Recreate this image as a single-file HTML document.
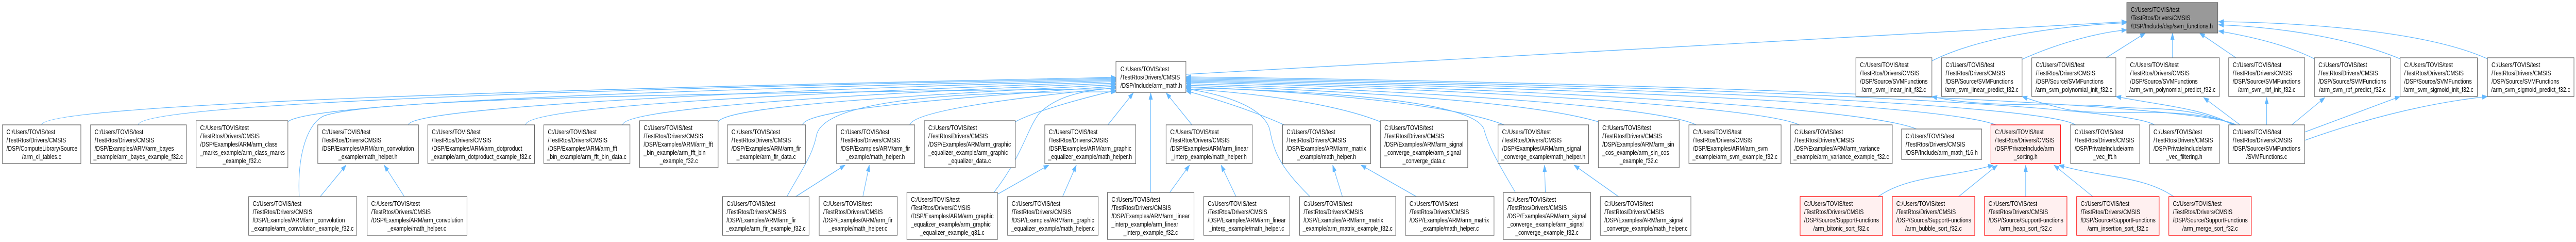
<!DOCTYPE html>
<html><head><meta charset="utf-8"><meta name="viewport" content="width=6371">
<style>
html,body{margin:0;padding:0;background:#fff;width:100%;height:100%;overflow:hidden;}
svg{display:block;width:100vw;height:100vh;}
text{font-family:"Liberation Sans",Arial,sans-serif;font-size:13.33px;fill:#000;}
.n rect{fill:#fff;stroke:#666;stroke-width:1.3;}
.r rect{fill:#fff0f0;stroke:#f00;stroke-width:1.3;}
.g rect{fill:#999;stroke:#666;stroke-width:1.3;}
.e path{fill:none;stroke:#63b8ff;stroke-width:1.3;}
</style></head><body>
<svg viewBox="0 0 6371 469" preserveAspectRatio="none" xmlns="http://www.w3.org/2000/svg">
<defs><marker id="a" markerWidth="14" markerHeight="10" refX="13" refY="5" orient="auto" markerUnits="userSpaceOnUse"><path d="M0,0 L14,5 L0,10z" fill="#63b8ff" stroke="none"/></marker></defs>
<g class="e">
<path marker-end="url(#a)" d="M103,242 C103,200 1500,170 2760,150"/>
<path marker-end="url(#a)" d="M342,242 C342,200 1500,172 2760,152"/>
<path marker-end="url(#a)" d="M712,236 C760,200 1600,175 2760,154"/>
<path marker-end="url(#a)" d="M1010,242 C1010,210 1800,176 2760,156"/>
<path marker-end="url(#a)" d="M1300,242 C1300,205 2000,180 2760,158"/>
<path marker-end="url(#a)" d="M1540,242 C1540,210 2100,182 2760,161"/>
<path marker-end="url(#a)" d="M1776,236 C1800,205 2250,185 2760,164"/>
<path marker-end="url(#a)" d="M1985,242 C1990,210 2400,188 2760,167"/>
<path marker-end="url(#a)" d="M2250,242 C2260,215 2500,190 2760,170"/>
<path marker-end="url(#a)" d="M2511,236 C2560,215 2680,190 2760,175"/>
<path marker-end="url(#a)" d="M2740,242 L2803,180"/>
<path marker-end="url(#a)" d="M2948,242 L2884,180"/>
<path marker-end="url(#a)" d="M3176,242 C3100,215 3000,190 2933,176"/>
<path marker-end="url(#a)" d="M3414,236 C3300,200 3100,180 2933,172"/>
<path marker-end="url(#a)" d="M3720,242 C3600,205 3300,180 2933,168"/>
<path marker-end="url(#a)" d="M3953,236 C3800,200 3400,178 2933,165"/>
<path marker-end="url(#a)" d="M4195,242 C4100,205 3500,176 2933,162"/>
<path marker-end="url(#a)" d="M4450,242 C4350,205 3600,172 2933,159"/>
<path marker-end="url(#a)" d="M4740,250 C4600,205 3700,170 2933,157"/>
<path marker-end="url(#a)" d="M4936,242 C4800,200 3800,168 2933,155"/>
<path marker-end="url(#a)" d="M5133,242 C5050,200 3900,165 2933,153"/>
<path marker-end="url(#a)" d="M5328,242 C5250,200 4000,162 2933,151"/>
<path marker-end="url(#a)" d="M5530,242 C5450,200 4100,160 2933,149"/>
<path marker-end="url(#a)" d="M2933,144 L5260,42"/>
<path marker-end="url(#a)" d="M740,381 C735,300 760,240 800,225 C900,195 1500,182 2760,172"/>
<path marker-end="url(#a)" d="M792,381 L856,320"/>
<path marker-end="url(#a)" d="M1000,381 L950,320"/>
<path marker-end="url(#a)" d="M1946,381 C1990,320 2010,300 2020,260 C2050,180 2500,178 2760,178"/>
<path marker-end="url(#a)" d="M1968,381 L2090,320"/>
<path marker-end="url(#a)" d="M2134,381 L2150,320"/>
<path marker-end="url(#a)" d="M2458,373 C2530,300 2540,250 2570,220 C2620,180 2700,175 2760,170"/>
<path marker-end="url(#a)" d="M2468,376 L2594,320"/>
<path marker-end="url(#a)" d="M2628,381 L2662,320"/>
<path marker-end="url(#a)" d="M2846,373 L2846,180"/>
<path marker-end="url(#a)" d="M2893,373 L2942,320"/>
<path marker-end="url(#a)" d="M3057,381 L3020,320"/>
<path marker-end="url(#a)" d="M3240,381 C3160,320 3150,290 3140,250 C3120,200 3000,180 2933,172"/>
<path marker-end="url(#a)" d="M3320,381 L3296,320"/>
<path marker-end="url(#a)" d="M3503,381 L3366,320"/>
<path marker-end="url(#a)" d="M3748,373 C3700,310 3680,280 3670,250 C3640,190 3200,175 2933,170"/>
<path marker-end="url(#a)" d="M3822,373 L3820,320"/>
<path marker-end="url(#a)" d="M4003,381 L3893,320"/>
<path marker-end="url(#a)" d="M4645,381 C4720,340 4820,345 4930,320"/>
<path marker-end="url(#a)" d="M4844,381 L4940,320"/>
<path marker-end="url(#a)" d="M5010,381 L5010,320"/>
<path marker-end="url(#a)" d="M5176,381 L5080,320"/>
<path marker-end="url(#a)" d="M5376,381 C5300,340 5200,345 5092,320"/>
<path marker-end="url(#a)" d="M4778,118 C4900,70 5100,50 5260,44"/>
<path marker-end="url(#a)" d="M5001,115 C5100,80 5200,62 5260,58"/>
<path marker-end="url(#a)" d="M5209,112 L5306,64"/>
<path marker-end="url(#a)" d="M5373,112 L5373,64"/>
<path marker-end="url(#a)" d="M5530,112 L5440,64"/>
<path marker-end="url(#a)" d="M5724,114 C5650,85 5560,70 5487,60"/>
<path marker-end="url(#a)" d="M5936,114 C5800,70 5620,52 5487,48"/>
<path marker-end="url(#a)" d="M6152,114 C6000,60 5700,44 5487,42"/>
<path marker-end="url(#a)" d="M5530,242 C5400,200 5200,230 5100,210 C5050,200 5030,195 5001,187"/>
<path marker-end="url(#a)" d="M5525,242 C5400,200 5300,215 5200,205 C5100,200 4900,210 4778,187"/>
<path marker-end="url(#a)" d="M5522,242 C5450,210 5350,205 5233,187"/>
<path marker-end="url(#a)" d="M5540,242 L5450,189"/>
<path marker-end="url(#a)" d="M5606,242 L5606,189"/>
<path marker-end="url(#a)" d="M5668,242 L5750,189"/>
<path marker-end="url(#a)" d="M5700,256 L5936,187"/>
<path marker-end="url(#a)" d="M5700,272 C5850,230 6000,200 6152,187"/>
</g>

<g class="g"><rect x="5260" y="5" width="225" height="59"/><text x="5270" y="23">C:/Users/TOVIS/test</text><text x="5270" y="39">/TestRtos/Drivers/CMSIS</text><text x="5270" y="55">/DSP/Include/dsp/svm_functions.h</text></g>
<g class="n"><rect x="2760" y="119" width="173" height="60"/><text x="2771" y="138">C:/Users/TOVIS/test</text><text x="2771" y="154">/TestRtos/Drivers/CMSIS</text><text x="2771" y="170">/DSP/Include/arm_math.h</text></g>

<g class="n"><rect x="4590" y="112" width="188" height="75"/><text x="4600" y="130">C:/Users/TOVIS/test</text><text x="4600" y="146">/TestRtos/Drivers/CMSIS</text><text x="4600" y="162">/DSP/Source/SVMFunctions</text><text x="4684" y="178" text-anchor="middle">/arm_svm_linear_init_f32.c</text></g>
<g class="n"><rect x="4802" y="112" width="199" height="75"/><text x="4812" y="130">C:/Users/TOVIS/test</text><text x="4812" y="146">/TestRtos/Drivers/CMSIS</text><text x="4812" y="162">/DSP/Source/SVMFunctions</text><text x="4901" y="178" text-anchor="middle">/arm_svm_linear_predict_f32.c</text></g>
<g class="n"><rect x="5025" y="112" width="208" height="75"/><text x="5035" y="130">C:/Users/TOVIS/test</text><text x="5035" y="146">/TestRtos/Drivers/CMSIS</text><text x="5035" y="162">/DSP/Source/SVMFunctions</text><text x="5129" y="178" text-anchor="middle">/arm_svm_polynomial_init_f32.c</text></g>
<g class="n"><rect x="5258" y="112" width="231" height="75"/><text x="5268" y="130">C:/Users/TOVIS/test</text><text x="5268" y="146">/TestRtos/Drivers/CMSIS</text><text x="5268" y="162">/DSP/Source/SVMFunctions</text><text x="5373" y="178" text-anchor="middle">/arm_svm_polynomial_predict_f32.c</text></g>
<g class="n"><rect x="5512" y="112" width="188" height="75"/><text x="5522" y="130">C:/Users/TOVIS/test</text><text x="5522" y="146">/TestRtos/Drivers/CMSIS</text><text x="5522" y="162">/DSP/Source/SVMFunctions</text><text x="5606" y="178" text-anchor="middle">/arm_svm_rbf_init_f32.c</text></g>
<g class="n"><rect x="5724" y="112" width="188" height="75"/><text x="5734" y="130">C:/Users/TOVIS/test</text><text x="5734" y="146">/TestRtos/Drivers/CMSIS</text><text x="5734" y="162">/DSP/Source/SVMFunctions</text><text x="5818" y="178" text-anchor="middle">/arm_svm_rbf_predict_f32.c</text></g>
<g class="n"><rect x="5936" y="112" width="191" height="75"/><text x="5946" y="130">C:/Users/TOVIS/test</text><text x="5946" y="146">/TestRtos/Drivers/CMSIS</text><text x="5946" y="162">/DSP/Source/SVMFunctions</text><text x="6031" y="178" text-anchor="middle">/arm_svm_sigmoid_init_f32.c</text></g>
<g class="n"><rect x="6152" y="112" width="214" height="75"/><text x="6162" y="130">C:/Users/TOVIS/test</text><text x="6162" y="146">/TestRtos/Drivers/CMSIS</text><text x="6162" y="162">/DSP/Source/SVMFunctions</text><text x="6259" y="178" text-anchor="middle">/arm_svm_sigmoid_predict_f32.c</text></g>

<g class="n"><rect x="6" y="242" width="194" height="75"/><text x="16" y="260">C:/Users/TOVIS/test</text><text x="16" y="276">/TestRtos/Drivers/CMSIS</text><text x="16" y="292">/DSP/ComputeLibrary/Source</text><text x="103" y="308" text-anchor="middle">/arm_cl_tables.c</text></g>
<g class="n"><rect x="224" y="242" width="237" height="75"/><text x="234" y="260">C:/Users/TOVIS/test</text><text x="234" y="276">/TestRtos/Drivers/CMSIS</text><text x="234" y="292">/DSP/Examples/ARM/arm_bayes</text><text x="342" y="308" text-anchor="middle">_example/arm_bayes_example_f32.c</text></g>
<g class="n"><rect x="485" y="234" width="227" height="91"/><text x="495" y="252">C:/Users/TOVIS/test</text><text x="495" y="268">/TestRtos/Drivers/CMSIS</text><text x="495" y="284">/DSP/Examples/ARM/arm_class</text><text x="495" y="300">_marks_example/arm_class_marks</text><text x="598" y="316" text-anchor="middle">_example_f32.c</text></g>
<g class="n"><rect x="786" y="242" width="249" height="75"/><text x="796" y="260">C:/Users/TOVIS/test</text><text x="796" y="276">/TestRtos/Drivers/CMSIS</text><text x="796" y="292">/DSP/Examples/ARM/arm_convolution</text><text x="910" y="308" text-anchor="middle">_example/math_helper.h</text></g>
<g class="n"><rect x="1058" y="242" width="264" height="75"/><text x="1068" y="260">C:/Users/TOVIS/test</text><text x="1068" y="276">/TestRtos/Drivers/CMSIS</text><text x="1068" y="292">/DSP/Examples/ARM/arm_dotproduct</text><text x="1190" y="308" text-anchor="middle">_example/arm_dotproduct_example_f32.c</text></g>
<g class="n"><rect x="1345" y="242" width="213" height="75"/><text x="1355" y="260">C:/Users/TOVIS/test</text><text x="1355" y="276">/TestRtos/Drivers/CMSIS</text><text x="1355" y="292">/DSP/Examples/ARM/arm_fft</text><text x="1451" y="308" text-anchor="middle">_bin_example/arm_fft_bin_data.c</text></g>
<g class="n"><rect x="1582" y="234" width="194" height="91"/><text x="1592" y="252">C:/Users/TOVIS/test</text><text x="1592" y="268">/TestRtos/Drivers/CMSIS</text><text x="1592" y="284">/DSP/Examples/ARM/arm_fft</text><text x="1592" y="300">_bin_example/arm_fft_bin</text><text x="1679" y="316" text-anchor="middle">_example_f32.c</text></g>
<g class="n"><rect x="1799" y="242" width="193" height="75"/><text x="1809" y="260">C:/Users/TOVIS/test</text><text x="1809" y="276">/TestRtos/Drivers/CMSIS</text><text x="1809" y="292">/DSP/Examples/ARM/arm_fir</text><text x="1895" y="308" text-anchor="middle">_example/arm_fir_data.c</text></g>
<g class="n"><rect x="2069" y="242" width="193" height="75"/><text x="2079" y="260">C:/Users/TOVIS/test</text><text x="2079" y="276">/TestRtos/Drivers/CMSIS</text><text x="2079" y="292">/DSP/Examples/ARM/arm_fir</text><text x="2165" y="308" text-anchor="middle">_example/math_helper.h</text></g>
<g class="n"><rect x="2286" y="234" width="225" height="91"/><text x="2296" y="252">C:/Users/TOVIS/test</text><text x="2296" y="268">/TestRtos/Drivers/CMSIS</text><text x="2296" y="284">/DSP/Examples/ARM/arm_graphic</text><text x="2296" y="300">_equalizer_example/arm_graphic</text><text x="2398" y="316" text-anchor="middle">_equalizer_data.c</text></g>
<g class="n"><rect x="2584" y="242" width="225" height="75"/><text x="2594" y="260">C:/Users/TOVIS/test</text><text x="2594" y="276">/TestRtos/Drivers/CMSIS</text><text x="2594" y="292">/DSP/Examples/ARM/arm_graphic</text><text x="2696" y="308" text-anchor="middle">_equalizer_example/math_helper.h</text></g>
<g class="n"><rect x="2884" y="242" width="213" height="75"/><text x="2894" y="260">C:/Users/TOVIS/test</text><text x="2894" y="276">/TestRtos/Drivers/CMSIS</text><text x="2894" y="292">/DSP/Examples/ARM/arm_linear</text><text x="2990" y="308" text-anchor="middle">_interp_example/math_helper.h</text></g>
<g class="n"><rect x="3172" y="242" width="218" height="75"/><text x="3182" y="260">C:/Users/TOVIS/test</text><text x="3182" y="276">/TestRtos/Drivers/CMSIS</text><text x="3182" y="292">/DSP/Examples/ARM/arm_matrix</text><text x="3281" y="308" text-anchor="middle">_example/math_helper.h</text></g>
<g class="n"><rect x="3414" y="234" width="216" height="91"/><text x="3424" y="252">C:/Users/TOVIS/test</text><text x="3424" y="268">/TestRtos/Drivers/CMSIS</text><text x="3424" y="284">/DSP/Examples/ARM/arm_signal</text><text x="3424" y="300">_converge_example/arm_signal</text><text x="3522" y="316" text-anchor="middle">_converge_data.c</text></g>
<g class="n"><rect x="3705" y="242" width="224" height="75"/><text x="3715" y="260">C:/Users/TOVIS/test</text><text x="3715" y="276">/TestRtos/Drivers/CMSIS</text><text x="3715" y="292">/DSP/Examples/ARM/arm_signal</text><text x="3817" y="308" text-anchor="middle">_converge_example/math_helper.h</text></g>
<g class="n"><rect x="3953" y="234" width="200" height="91"/><text x="3963" y="252">C:/Users/TOVIS/test</text><text x="3963" y="268">/TestRtos/Drivers/CMSIS</text><text x="3963" y="284">/DSP/Examples/ARM/arm_sin</text><text x="3963" y="300">_cos_example/arm_sin_cos</text><text x="4053" y="316" text-anchor="middle">_example_f32.c</text></g>
<g class="n"><rect x="4177" y="242" width="228" height="75"/><text x="4187" y="260">C:/Users/TOVIS/test</text><text x="4187" y="276">/TestRtos/Drivers/CMSIS</text><text x="4187" y="292">/DSP/Examples/ARM/arm_svm</text><text x="4291" y="308" text-anchor="middle">_example/arm_svm_example_f32.c</text></g>
<g class="n"><rect x="4428" y="242" width="252" height="75"/><text x="4438" y="260">C:/Users/TOVIS/test</text><text x="4438" y="276">/TestRtos/Drivers/CMSIS</text><text x="4438" y="292">/DSP/Examples/ARM/arm_variance</text><text x="4554" y="308" text-anchor="middle">_example/arm_variance_example_f32.c</text></g>
<g class="n"><rect x="4703" y="250" width="198" height="59"/><text x="4713" y="268">C:/Users/TOVIS/test</text><text x="4713" y="284">/TestRtos/Drivers/CMSIS</text><text x="4713" y="300">/DSP/Include/arm_math_f16.h</text></g>
<g class="r"><rect x="4924" y="242" width="172" height="75"/><text x="4934" y="260">C:/Users/TOVIS/test</text><text x="4934" y="276">/TestRtos/Drivers/CMSIS</text><text x="4934" y="292">/DSP/PrivateInclude/arm</text><text x="5010" y="308" text-anchor="middle">_sorting.h</text></g>
<g class="n"><rect x="5121" y="242" width="171" height="75"/><text x="5131" y="260">C:/Users/TOVIS/test</text><text x="5131" y="276">/TestRtos/Drivers/CMSIS</text><text x="5131" y="292">/DSP/PrivateInclude/arm</text><text x="5206" y="308" text-anchor="middle">_vec_fft.h</text></g>
<g class="n"><rect x="5316" y="242" width="173" height="75"/><text x="5326" y="260">C:/Users/TOVIS/test</text><text x="5326" y="276">/TestRtos/Drivers/CMSIS</text><text x="5326" y="292">/DSP/PrivateInclude/arm</text><text x="5402" y="308" text-anchor="middle">_vec_filtering.h</text></g>
<g class="n"><rect x="5512" y="242" width="188" height="75"/><text x="5522" y="260">C:/Users/TOVIS/test</text><text x="5522" y="276">/TestRtos/Drivers/CMSIS</text><text x="5522" y="292">/DSP/Source/SVMFunctions</text><text x="5606" y="308" text-anchor="middle">/SVMFunctions.c</text></g>

<g class="n"><rect x="615" y="381" width="267" height="75"/><text x="625" y="399">C:/Users/TOVIS/test</text><text x="625" y="415">/TestRtos/Drivers/CMSIS</text><text x="625" y="431">/DSP/Examples/ARM/arm_convolution</text><text x="748" y="447" text-anchor="middle">_example/arm_convolution_example_f32.c</text></g>
<g class="n"><rect x="908" y="381" width="247" height="75"/><text x="918" y="399">C:/Users/TOVIS/test</text><text x="918" y="415">/TestRtos/Drivers/CMSIS</text><text x="918" y="431">/DSP/Examples/ARM/arm_convolution</text><text x="1031" y="447" text-anchor="middle">_example/math_helper.c</text></g>
<g class="n"><rect x="1787" y="381" width="214" height="75"/><text x="1797" y="399">C:/Users/TOVIS/test</text><text x="1797" y="415">/TestRtos/Drivers/CMSIS</text><text x="1797" y="431">/DSP/Examples/ARM/arm_fir</text><text x="1894" y="447" text-anchor="middle">_example/arm_fir_example_f32.c</text></g>
<g class="n"><rect x="2026" y="381" width="193" height="75"/><text x="2036" y="399">C:/Users/TOVIS/test</text><text x="2036" y="415">/TestRtos/Drivers/CMSIS</text><text x="2036" y="431">/DSP/Examples/ARM/arm_fir</text><text x="2122" y="447" text-anchor="middle">_example/math_helper.c</text></g>
<g class="n"><rect x="2243" y="373" width="224" height="91"/><text x="2253" y="391">C:/Users/TOVIS/test</text><text x="2253" y="407">/TestRtos/Drivers/CMSIS</text><text x="2253" y="423">/DSP/Examples/ARM/arm_graphic</text><text x="2253" y="439">_equalizer_example/arm_graphic</text><text x="2355" y="455" text-anchor="middle">_equalizer_example_q31.c</text></g>
<g class="n"><rect x="2492" y="381" width="224" height="75"/><text x="2502" y="399">C:/Users/TOVIS/test</text><text x="2502" y="415">/TestRtos/Drivers/CMSIS</text><text x="2502" y="431">/DSP/Examples/ARM/arm_graphic</text><text x="2604" y="447" text-anchor="middle">_equalizer_example/math_helper.c</text></g>
<g class="n"><rect x="2739" y="373" width="214" height="91"/><text x="2749" y="391">C:/Users/TOVIS/test</text><text x="2749" y="407">/TestRtos/Drivers/CMSIS</text><text x="2749" y="423">/DSP/Examples/ARM/arm_linear</text><text x="2749" y="439">_interp_example/arm_linear</text><text x="2846" y="455" text-anchor="middle">_interp_example_f32.c</text></g>
<g class="n"><rect x="2977" y="381" width="213" height="75"/><text x="2987" y="399">C:/Users/TOVIS/test</text><text x="2987" y="415">/TestRtos/Drivers/CMSIS</text><text x="2987" y="431">/DSP/Examples/ARM/arm_linear</text><text x="3083" y="447" text-anchor="middle">_interp_example/math_helper.c</text></g>
<g class="n"><rect x="3214" y="381" width="238" height="75"/><text x="3224" y="399">C:/Users/TOVIS/test</text><text x="3224" y="415">/TestRtos/Drivers/CMSIS</text><text x="3224" y="431">/DSP/Examples/ARM/arm_matrix</text><text x="3333" y="447" text-anchor="middle">_example/arm_matrix_example_f32.c</text></g>
<g class="n"><rect x="3476" y="381" width="219" height="75"/><text x="3486" y="399">C:/Users/TOVIS/test</text><text x="3486" y="415">/TestRtos/Drivers/CMSIS</text><text x="3486" y="431">/DSP/Examples/ARM/arm_matrix</text><text x="3585" y="447" text-anchor="middle">_example/math_helper.c</text></g>
<g class="n"><rect x="3718" y="373" width="216" height="91"/><text x="3728" y="391">C:/Users/TOVIS/test</text><text x="3728" y="407">/TestRtos/Drivers/CMSIS</text><text x="3728" y="423">/DSP/Examples/ARM/arm_signal</text><text x="3728" y="439">_converge_example/arm_signal</text><text x="3826" y="455" text-anchor="middle">_converge_example_f32.c</text></g>
<g class="n"><rect x="3958" y="381" width="224" height="75"/><text x="3968" y="399">C:/Users/TOVIS/test</text><text x="3968" y="415">/TestRtos/Drivers/CMSIS</text><text x="3968" y="431">/DSP/Examples/ARM/arm_signal</text><text x="4070" y="447" text-anchor="middle">_converge_example/math_helper.c</text></g>
<g class="r"><rect x="4452" y="381" width="204" height="75"/><text x="4462" y="399">C:/Users/TOVIS/test</text><text x="4462" y="415">/TestRtos/Drivers/CMSIS</text><text x="4462" y="431">/DSP/Source/SupportFunctions</text><text x="4554" y="447" text-anchor="middle">/arm_bitonic_sort_f32.c</text></g>
<g class="r"><rect x="4680" y="381" width="204" height="75"/><text x="4690" y="399">C:/Users/TOVIS/test</text><text x="4690" y="415">/TestRtos/Drivers/CMSIS</text><text x="4690" y="431">/DSP/Source/SupportFunctions</text><text x="4782" y="447" text-anchor="middle">/arm_bubble_sort_f32.c</text></g>
<g class="r"><rect x="4908" y="381" width="204" height="75"/><text x="4918" y="399">C:/Users/TOVIS/test</text><text x="4918" y="415">/TestRtos/Drivers/CMSIS</text><text x="4918" y="431">/DSP/Source/SupportFunctions</text><text x="5010" y="447" text-anchor="middle">/arm_heap_sort_f32.c</text></g>
<g class="r"><rect x="5136" y="381" width="204" height="75"/><text x="5146" y="399">C:/Users/TOVIS/test</text><text x="5146" y="415">/TestRtos/Drivers/CMSIS</text><text x="5146" y="431">/DSP/Source/SupportFunctions</text><text x="5238" y="447" text-anchor="middle">/arm_insertion_sort_f32.c</text></g>
<g class="r"><rect x="5364" y="381" width="204" height="75"/><text x="5374" y="399">C:/Users/TOVIS/test</text><text x="5374" y="415">/TestRtos/Drivers/CMSIS</text><text x="5374" y="431">/DSP/Source/SupportFunctions</text><text x="5466" y="447" text-anchor="middle">/arm_merge_sort_f32.c</text></g>
</svg>
</body></html>
